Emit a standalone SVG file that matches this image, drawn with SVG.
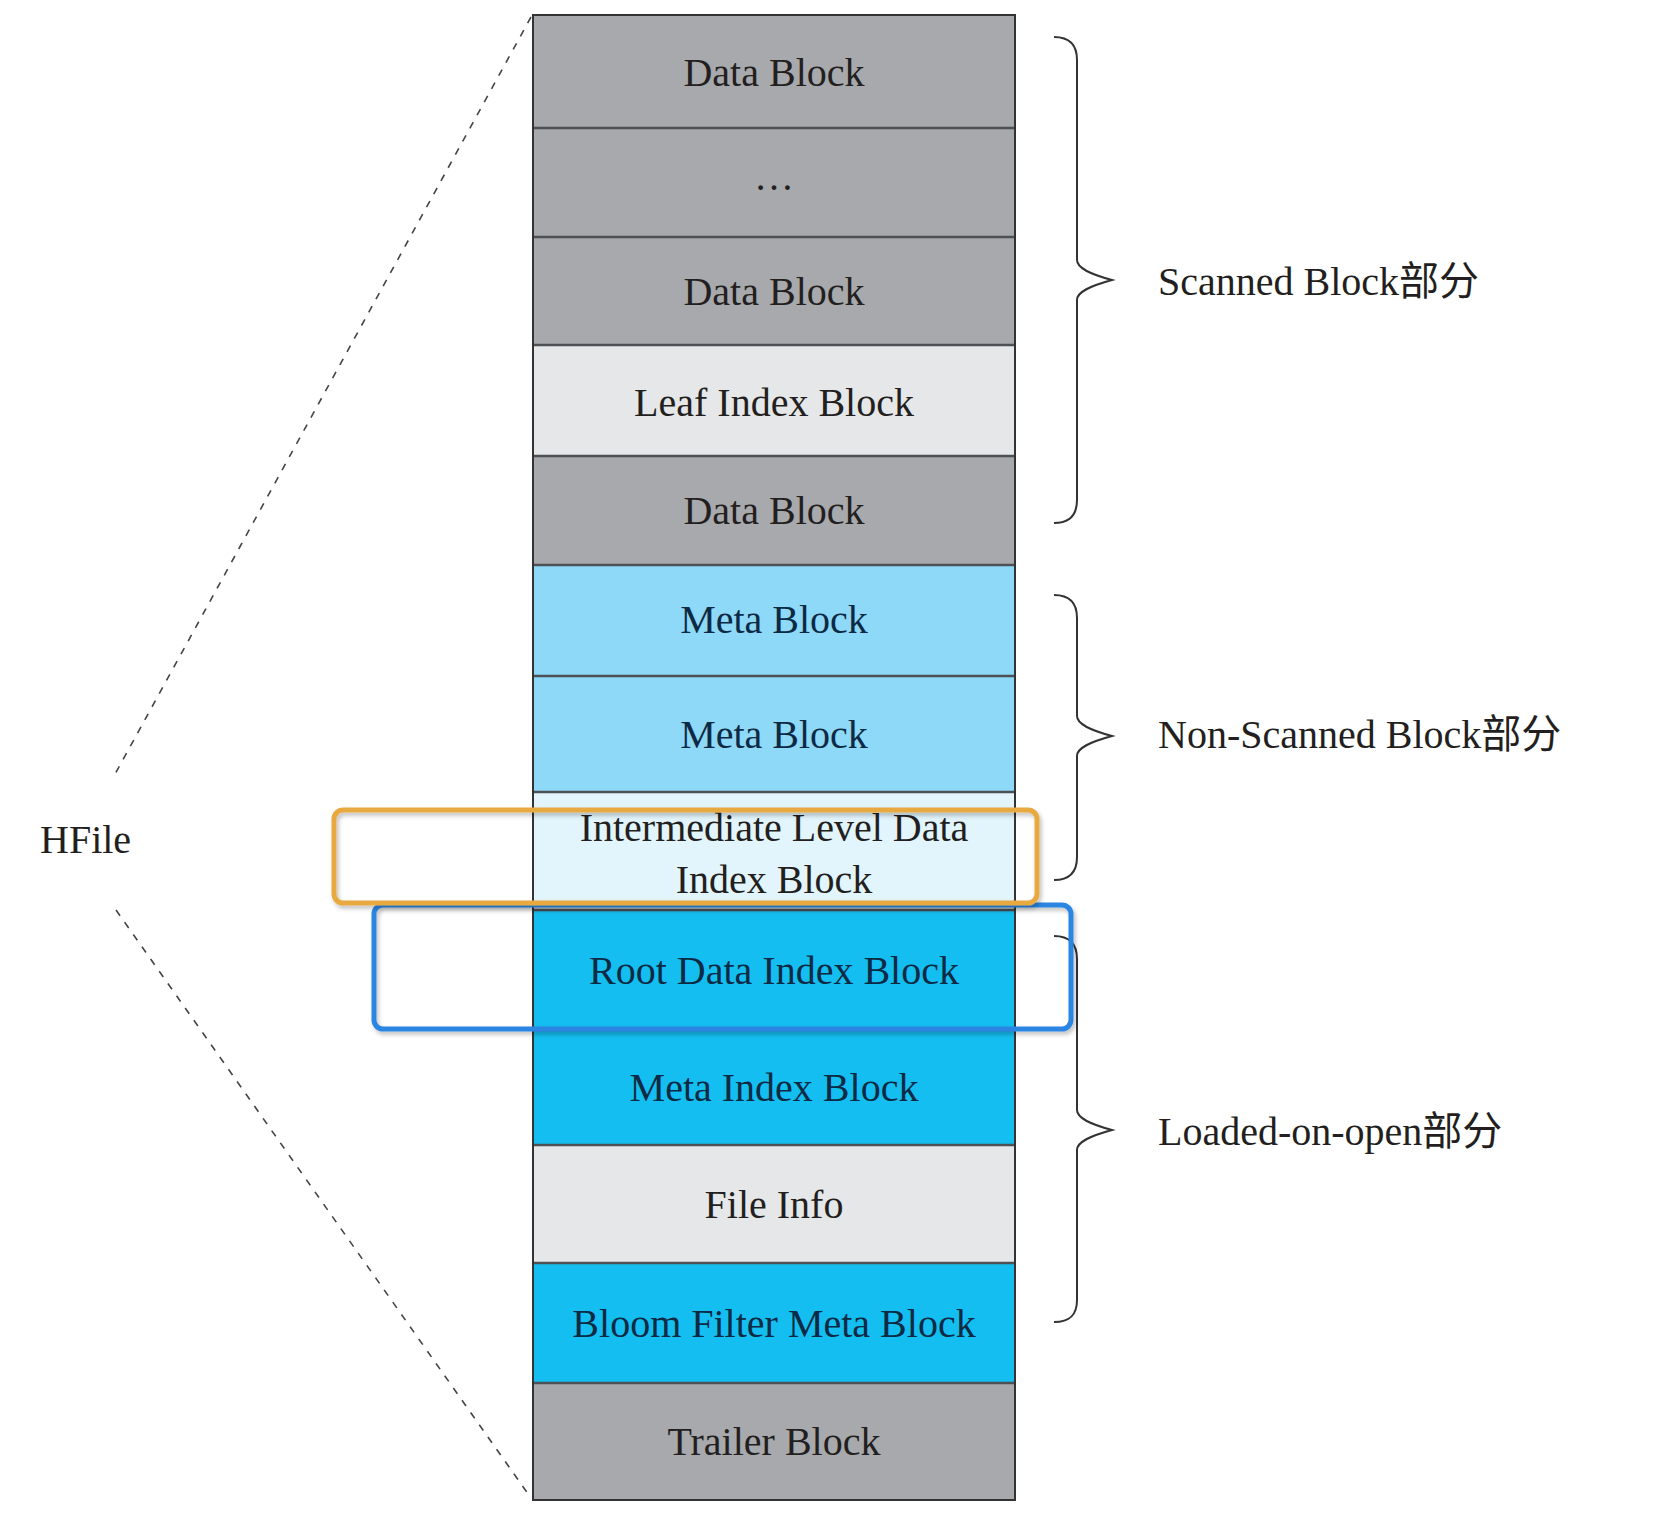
<svg xmlns="http://www.w3.org/2000/svg" width="1656" height="1538" viewBox="0 0 1656 1538">
<defs>
<style>
.t{font-family:"Liberation Serif","Times New Roman",serif;font-size:40px;fill:#231f20;text-anchor:middle}
.tb{fill:#0c2a44}
.lbl{font-family:"Liberation Serif","Times New Roman","Noto Sans CJK SC",serif;font-size:40px;fill:#231f20}
.gray{fill:#a7a9ac}
.lgray{fill:#e6e7e8}
.mblue{fill:#8ed8f8}
.pblue{fill:#e2f4fc}
.cyan{fill:#14bef0}
.div{stroke:#4d5156;stroke-width:2.5;fill:none}
.brace{stroke:#333;stroke-width:2;fill:none}
.dash{stroke:#444;stroke-width:1.6;stroke-dasharray:7 8;fill:none}
.hl{fill:none;stroke-width:5}
</style>
<filter id="sh" x="-5%" y="-20%" width="110%" height="140%">
<feDropShadow dx="2" dy="3" stdDeviation="2" flood-color="#000" flood-opacity="0.25"/>
</filter>
</defs>
<rect width="1656" height="1538" fill="#fff"/>

<g id="connectors">
<line class="dash" x1="531" y1="17" x2="114" y2="776"/>
<line class="dash" x1="116" y1="910" x2="531" y2="1498"/>
<path id="brace-scanned" class="brace" d="M1054,37 C1070,37 1077,45 1077,60 L1077,260 C1077,268 1090,274 1112,280 C1090,286 1077,292 1077,300 L1077,500 C1077,515 1070,523 1054,523"/>
<path id="brace-nonscanned" class="brace" d="M1054,595 C1070,595 1077,603 1077,618 L1077,716 C1077,724 1090,730 1112,736 C1090,742 1077,748 1077,756 L1077,857 C1077,872 1070,880 1054,880"/>
<path id="brace-loaded" class="brace" d="M1054,936 C1070,936 1077,944 1077,959 L1077,1110 C1077,1118 1090,1124 1112,1130 C1090,1136 1077,1142 1077,1150 L1077,1300 C1077,1315 1070,1322 1054,1322"/>
</g>

<g id="block-data1"><rect class="gray" x="533" y="15" width="482" height="113"/><text class="t" x="774" y="86">Data Block</text></g>
<g id="block-ellipsis"><rect class="gray" x="533" y="128" width="482" height="109"/><text class="t" x="774" y="190">…</text></g>
<g id="block-data2"><rect class="gray" x="533" y="237" width="482" height="108"/><text class="t" x="774" y="305">Data Block</text></g>
<g id="block-leaf"><rect class="lgray" x="533" y="345" width="482" height="111"/><text class="t" x="774" y="416">Leaf Index Block</text></g>
<g id="block-data3"><rect class="gray" x="533" y="456" width="482" height="109"/><text class="t" x="774" y="524">Data Block</text></g>
<g id="block-meta1"><rect class="mblue" x="533" y="565" width="482" height="111"/><text class="t tb" x="774" y="633">Meta Block</text></g>
<g id="block-meta2"><rect class="mblue" x="533" y="676" width="482" height="116"/><text class="t tb" x="774" y="748">Meta Block</text></g>
<g id="block-intermediate"><rect class="pblue" x="533" y="792" width="482" height="118"/><text class="t" x="774" y="841">Intermediate Level Data</text><text class="t" x="774" y="893">Index Block</text></g>
<g id="block-root"><rect class="cyan" x="533" y="910" width="482" height="120"/><text class="t tb" x="774" y="984">Root Data Index Block</text></g>
<g id="block-metaindex"><rect class="cyan" x="533" y="1030" width="482" height="115"/><text class="t tb" x="774" y="1101">Meta Index Block</text></g>
<g id="block-fileinfo"><rect class="lgray" x="533" y="1145" width="482" height="118"/><text class="t" x="774" y="1218">File Info</text></g>
<g id="block-bloom"><rect class="cyan" x="533" y="1263" width="482" height="120"/><text class="t tb" x="774" y="1337">Bloom Filter Meta Block</text></g>
<g id="block-trailer"><rect class="gray" x="533" y="1383" width="482" height="117"/><text class="t" x="774" y="1455">Trailer Block</text></g>

<g id="dividers">
<line class="div" x1="533" y1="128" x2="1015" y2="128"/>
<line class="div" x1="533" y1="237" x2="1015" y2="237"/>
<line class="div" x1="533" y1="345" x2="1015" y2="345"/>
<line class="div" x1="533" y1="456" x2="1015" y2="456"/>
<line class="div" x1="533" y1="565" x2="1015" y2="565"/>
<line class="div" x1="533" y1="676" x2="1015" y2="676"/>
<line class="div" x1="533" y1="792" x2="1015" y2="792" stroke="#5f8ea3"/>
<line class="div" x1="533" y1="910" x2="1015" y2="910"/>
<line class="div" x1="533" y1="1030" x2="1015" y2="1030"/>
<line class="div" x1="533" y1="1145" x2="1015" y2="1145" stroke="#6f8f9a"/>
<line class="div" x1="533" y1="1263" x2="1015" y2="1263" stroke="#6aa9bf"/>
<line class="div" x1="533" y1="1383" x2="1015" y2="1383"/>
<rect x="533" y="15" width="482" height="1485" fill="none" stroke="#333" stroke-width="2"/>
</g>

<g id="label-hfile"><text class="lbl" x="40" y="853">HFile</text></g>
<g id="label-scanned"><text class="lbl" x="1158" y="295">Scanned Block部分</text></g>
<g id="label-nonscanned"><text class="lbl" x="1158" y="748">Non-Scanned Block部分</text></g>
<g id="label-loaded"><text class="lbl" x="1158" y="1145">Loaded-on-open部分</text></g>

<g id="highlight-blue"><rect class="hl" x="374" y="905" width="697" height="124" rx="9" stroke="#2c86e2" filter="url(#sh)"/></g>
<g id="highlight-orange"><rect class="hl" x="334" y="810" width="703" height="93" rx="9" stroke="#e8a940" filter="url(#sh)"/></g>
</svg>
